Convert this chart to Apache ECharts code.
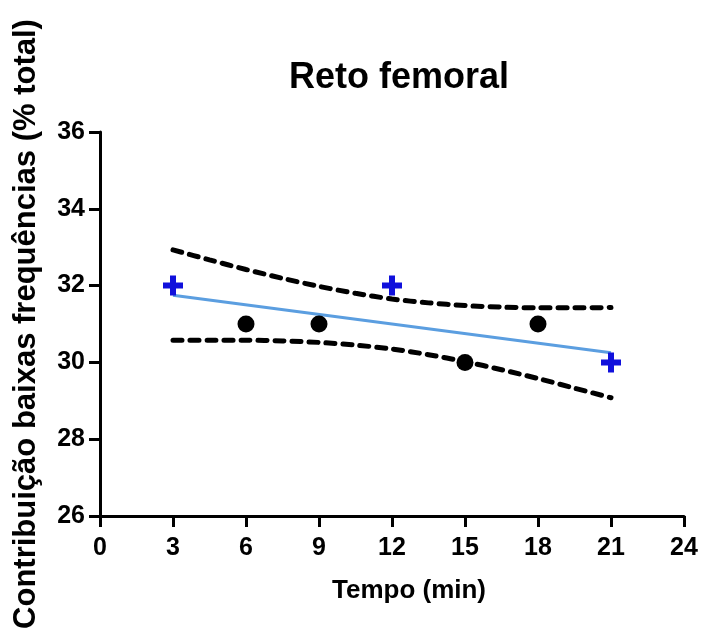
<!DOCTYPE html>
<html>
<head>
<meta charset="utf-8">
<style>html,body{margin:0;padding:0;background:#fff;}#c{width:702px;height:634px;}</style>
<script src="https://cdn.jsdelivr.net/npm/echarts@6/dist/echarts.min.js"></script>
</head>
<body>
<div id="c"></div>
<script>
const titleText = 'Reto femoral';
const xName = 'Tempo (min)';
const yName = 'Contribuição baixas frequências (% total)';
const crossX = [3, 12, 21];
const crossY = [32, 32, 30];
const dotX = [6, 9, 15, 18];
const dotY = [31, 31, 30, 31];
const fitX = [3, 21];
const fitY = [31.75, 30.25];
const bandX = [3, 4.5, 6, 7.5, 9, 10.5, 12, 13.5, 15, 16.5, 18, 19.5, 21];
const upperY = [32.93, 32.67, 32.42, 32.19, 31.98, 31.80, 31.65, 31.55, 31.48, 31.44, 31.42, 31.42, 31.43];
const lowerY = [30.58, 30.58, 30.58, 30.56, 30.52, 30.45, 30.35, 30.20, 30.02, 29.81, 29.58, 29.33, 29.08];

const zip = (a, b) => a.map((v, i) => [v, b[i]]);
const FONT = '"Liberation Sans", Arial, sans-serif';
const chart = echarts.init(document.getElementById('c'));
const dashStyle = { color: '#000', width: 5, type: [9, 8], cap: 'round' };
chart.setOption({
  animation: false,
  backgroundColor: '#fff',
  title: {
    text: titleText, left: 394, top: 55, textAlign: 'center',
    textStyle: { fontFamily: FONT, fontSize: 36, fontWeight: 'bold', color: '#000' }
  },
  grid: { left: 100, right: 18, top: 132, bottom: 118, containLabel: false },
  xAxis: {
    type: 'value', min: 0, max: 24, interval: 3,
    name: xName, nameLocation: 'middle', nameGap: 62,
    nameTextStyle: { fontFamily: FONT, fontSize: 26, fontWeight: 'bold', color: '#000', padding: [0, 0, 0, 34] },
    axisLine: { show: true, onZero: false, lineStyle: { color: '#000', width: 3 } },
    axisTick: { show: true, length: 11, lineStyle: { color: '#000', width: 3 } },
    axisLabel: { margin: 20, fontFamily: FONT, fontSize: 25, fontWeight: 'bold', color: '#000' },
    splitLine: { show: false }
  },
  yAxis: {
    type: 'value', min: 26, max: 36, interval: 2,
    name: yName, nameLocation: 'middle', nameGap: 58,
    nameTextStyle: { fontFamily: FONT, fontSize: 31, fontWeight: 'bold', color: '#000' },
    axisLine: { show: true, onZero: false, lineStyle: { color: '#000', width: 3 } },
    axisTick: { show: true, length: 11, lineStyle: { color: '#000', width: 3 } },
    axisLabel: { margin: 15, fontFamily: FONT, fontSize: 25, fontWeight: 'bold', color: '#000' },
    splitLine: { show: false }
  },
  series: [
    { type: 'line', data: zip(bandX, upperY), symbol: 'none', smooth: 0.3, lineStyle: dashStyle, z: 2 },
    { type: 'line', data: zip(bandX, lowerY), symbol: 'none', smooth: 0.3, lineStyle: dashStyle, z: 2 },
    { type: 'line', data: zip(fitX, fitY), symbol: 'none', lineStyle: { color: '#5b9ee0', width: 3 }, z: 3 },
    { type: 'scatter', data: zip(dotX, dotY), symbol: 'circle', symbolSize: 17, itemStyle: { color: '#000', opacity: 1 }, z: 4 },
    { type: 'scatter', data: zip(crossX, crossY), symbol: 'path://M7,0 H13 V7 H20 V13 H13 V20 H7 V13 H0 V7 H7 Z', symbolSize: 20, itemStyle: { color: '#1010dc', opacity: 1 }, z: 5 }
  ]
});
</script>
</body>
</html>
